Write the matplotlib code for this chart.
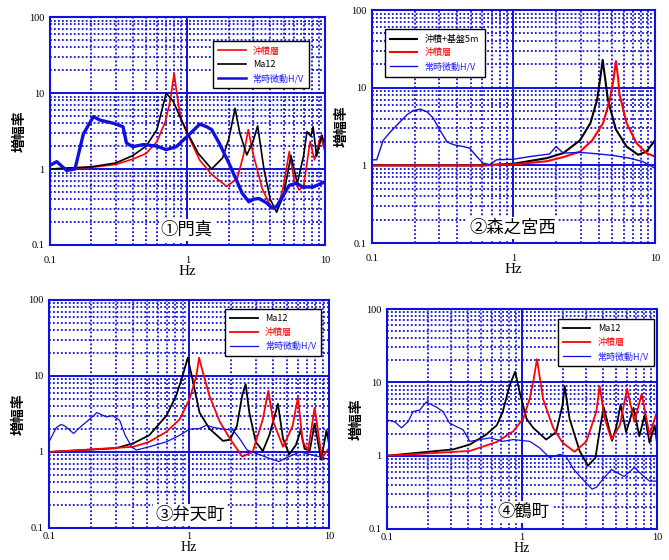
import matplotlib
matplotlib.use('Agg')
import matplotlib.pyplot as plt
from matplotlib.ticker import LogLocator, NullFormatter, FixedLocator, FixedFormatter

plt.rcParams['font.family'] = ['Noto Sans CJK JP', 'DejaVu Sans']

# ---- panel 1: 門真
p1_red_f = [0.1, 0.2, 0.3, 0.4, 0.5, 0.6, 0.69, 0.75, 0.80, 0.85, 0.9, 1.0, 1.23, 1.5, 1.93, 2.3, 2.55, 2.77, 3.0, 3.5, 4.1, 4.6, 5.0, 5.5, 6.0, 6.5, 7.0, 7.8, 8.4, 9.3, 10]
p1_red_a = [1.0, 1.05, 1.15, 1.35, 1.6, 2.3, 4.2, 8, 18.3, 8, 4.5, 2.9, 1.3, 0.85, 0.59, 0.75, 1.5, 3.3, 1.6, 0.55, 0.30, 0.33, 0.6, 1.7, 0.7, 0.53, 0.6, 2.3, 1.32, 2.7, 1.7]
p1_blk_f = [0.1, 0.2, 0.3, 0.4, 0.5, 0.6, 0.70, 0.79, 0.9, 1.0, 1.2, 1.5, 1.8, 2.0, 2.22, 2.4, 2.7, 3.0, 3.24, 3.6, 4.0, 4.45, 5.0, 5.66, 6.3, 7.0, 7.4, 7.9, 8.2, 8.7, 9.5, 10]
p1_blk_a = [1.0, 1.07, 1.2, 1.5, 2.0, 3.3, 10, 7.7, 4.5, 3.0, 1.6, 1.0, 1.4, 2.5, 6.3, 3.0, 1.53, 2.3, 3.7, 1.0, 0.4, 0.27, 0.45, 1.5, 0.65, 1.5, 3.1, 2.7, 3.6, 1.47, 2.8, 2.0]
p1_hv_f = [0.1, 0.112, 0.132, 0.152, 0.175, 0.207, 0.231, 0.29, 0.34, 0.36, 0.40, 0.48, 0.6, 0.7, 0.83, 1.04, 1.23, 1.38, 1.5, 1.7, 2.0, 2.3, 2.5, 2.8, 3.0, 3.3, 3.75, 4.1, 4.45, 4.9, 5.5, 6.2, 6.9, 8.2, 10]
p1_hv_a = [1.12, 1.25, 0.96, 1.0, 2.9, 4.9, 4.4, 4.0, 3.6, 2.2, 1.97, 2.1, 2.0, 1.8, 1.97, 2.9, 3.9, 3.6, 3.3, 2.2, 1.2, 0.68, 0.48, 0.37, 0.40, 0.41, 0.36, 0.31, 0.32, 0.43, 0.61, 0.65, 0.58, 0.58, 0.68]

# ---- panel 2: 森之宮西
p2_blk_f = [0.1, 0.3, 0.6, 1.0, 1.72, 2.25, 2.95, 3.5, 3.9, 4.1, 4.27, 4.45, 4.65, 5.3, 6.3, 7.6, 8.7, 10]
p2_blk_a = [1.0, 1.0, 1.0, 1.05, 1.24, 1.44, 2.1, 3.5, 7, 13, 22.8, 13, 7, 2.9, 1.75, 1.37, 1.5, 2.1]
p2_red_f = [0.1, 0.3, 0.6, 1.0, 1.72, 2.25, 2.95, 3.6, 4.3, 4.8, 5.1, 5.3, 5.5, 5.6, 6.3, 7.4, 8.7, 10]
p2_red_a = [1.0, 1.0, 1.0, 1.03, 1.13, 1.28, 1.5, 2.1, 3.5, 7, 13, 22, 13, 8.5, 3.5, 1.94, 1.44, 1.3]
p2_hv_f = [0.1, 0.108, 0.12, 0.135, 0.15, 0.177, 0.197, 0.22, 0.245, 0.27, 0.30, 0.34, 0.38, 0.44, 0.49, 0.55, 0.61, 0.68, 0.76, 1.0, 1.31, 1.63, 1.8, 2.0, 2.25, 2.95, 3.9, 5.1, 6.6, 8.2, 10]
p2_hv_a = [1.18, 1.18, 2.1, 2.7, 3.3, 4.5, 5.1, 5.3, 4.9, 4.1, 2.9, 2.0, 1.84, 1.75, 1.67, 1.3, 1.07, 1.02, 1.18, 1.2, 1.3, 1.37, 1.4, 1.75, 1.44, 1.47, 1.41, 1.34, 1.24, 1.12, 0.92]

# ---- panel 3: 弁天町
p3_blk_f = [0.1, 0.30, 0.40, 0.52, 0.69, 0.81, 0.90, 0.98, 1.06, 1.19, 1.40, 1.75, 1.96, 2.2, 2.4, 2.54, 2.7, 3.0, 3.37, 3.75, 4.1, 4.32, 4.7, 5.2, 5.8, 6.28, 6.7, 7.3, 7.9, 8.8, 9.6, 10]
p3_blk_a = [1.0, 1.12, 1.3, 1.66, 3.0, 5.5, 10, 17.4, 9, 3.3, 2.03, 1.4, 1.45, 2.2, 5.5, 7.8, 3.3, 1.36, 1.03, 1.66, 3.0, 4.3, 1.5, 0.93, 1.23, 1.93, 1.1, 1.05, 2.36, 0.79, 1.93, 1.3]
p3_red_f = [0.1, 0.40, 0.52, 0.69, 0.86, 1.01, 1.13, 1.18, 1.26, 1.4, 1.66, 1.96, 2.4, 2.85, 3.37, 3.69, 4.0, 4.7, 5.5, 6.0, 6.5, 7.1, 7.9, 8.9, 10]
p3_red_a = [1.0, 1.17, 1.36, 1.84, 2.7, 5.0, 10, 17.4, 11, 5.5, 2.5, 1.5, 0.87, 1.0, 2.7, 6.4, 2.5, 1.17, 2.2, 5.2, 1.36, 1.06, 3.8, 0.83, 1.12]
p3_hv_f = [0.1, 0.113, 0.122, 0.13, 0.15, 0.166, 0.195, 0.22, 0.256, 0.286, 0.32, 0.35, 0.39, 0.42, 0.52, 0.69, 0.86, 1.01, 1.19, 1.33, 1.5, 1.75, 2.07, 2.3, 2.6, 3.25, 4.0, 4.4, 5.2, 6.2, 7.7, 10]
p3_hv_a = [1.36, 2.1, 2.3, 2.2, 1.75, 2.1, 2.7, 3.3, 2.9, 3.0, 2.6, 1.66, 1.17, 1.06, 1.17, 1.36, 1.66, 2.0, 2.03, 2.25, 2.1, 2.0, 1.93, 1.5, 1.06, 0.91, 0.79, 0.75, 0.87, 1.0, 0.91, 0.8]

# ---- panel 4: 鶴町
p4_blk_f = [0.1, 0.31, 0.41, 0.54, 0.65, 0.72, 0.81, 0.89, 0.96, 1.08, 1.21, 1.51, 1.79, 2.0, 2.07, 2.25, 2.67, 3.08, 3.5, 3.8, 4.03, 4.65, 5.0, 5.38, 5.9, 6.7, 7.4, 8.1, 8.8, 9.6, 10]
p4_blk_a = [1.0, 1.22, 1.42, 1.93, 2.6, 4.0, 9.1, 14.0, 7.4, 3.2, 2.4, 1.66, 2.1, 5.0, 8.9, 3.2, 1.16, 0.73, 0.94, 2.5, 4.6, 1.6, 2.5, 5.0, 2.1, 4.5, 1.84, 3.6, 1.5, 2.6, 1.5]
p4_red_f = [0.1, 0.41, 0.65, 0.86, 1.02, 1.14, 1.22, 1.29, 1.36, 1.43, 1.7, 2.0, 2.45, 3.0, 3.55, 3.76, 4.1, 4.6, 5.3, 6.0, 6.8, 7.7, 8.8, 10]
p4_red_a = [1.0, 1.16, 1.54, 2.15, 3.2, 6.0, 11, 20.8, 11, 6.0, 2.4, 1.5, 1.13, 1.57, 4.0, 8.9, 3.2, 1.66, 2.6, 8.2, 2.9, 7.0, 1.93, 4.0]
p4_hv_f = [0.1, 0.114, 0.128, 0.143, 0.156, 0.175, 0.195, 0.207, 0.232, 0.26, 0.29, 0.326, 0.366, 0.41, 0.49, 0.58, 0.72, 0.86, 1.14, 1.35, 1.6, 1.9, 2.1, 2.4, 2.8, 3.3, 3.55, 3.98, 4.6, 5.3, 5.7, 6.8, 7.9, 8.8, 10]
p4_hv_a = [3.08, 2.9, 2.4, 2.9, 4.0, 4.2, 5.4, 5.1, 4.6, 4.0, 2.8, 2.5, 2.26, 1.57, 1.66, 1.75, 1.57, 1.66, 1.57, 1.28, 0.94, 1.04, 1.0, 0.66, 0.48, 0.35, 0.37, 0.48, 0.65, 0.56, 0.52, 0.69, 0.53, 0.45, 0.45]

x_ticks = [0.1, 1, 10]
x_labels = ['0.1', '1', '10']
y_ticks = [0.1, 1, 10, 100]
y_labels = ['0.1', '1', '10', '100']

GRID = '#1010e0'
serif = 'Liberation Serif'

fig = plt.figure(figsize=(6.69, 5.6), dpi=100)


def setup(ax, x_pad=8, hz_pad=0, hz_size=11):
    ax.set_xscale('log')
    ax.set_yscale('log')
    ax.set_xlim(0.1, 10)
    ax.set_ylim(0.1, 100)
    ax.xaxis.set_major_locator(FixedLocator(x_ticks))
    ax.xaxis.set_major_formatter(FixedFormatter(x_labels))
    ax.yaxis.set_major_locator(FixedLocator(y_ticks))
    ax.yaxis.set_major_formatter(FixedFormatter(y_labels))
    ax.xaxis.set_minor_locator(LogLocator(base=10, subs=range(2, 10)))
    ax.yaxis.set_minor_locator(LogLocator(base=10, subs=range(2, 10)))
    ax.xaxis.set_minor_formatter(NullFormatter())
    ax.yaxis.set_minor_formatter(NullFormatter())
    ax.grid(which='major', color=GRID, lw=1.4, ls='-')
    ax.grid(which='minor', color=GRID, lw=1.3, ls=(0, (1, 1.2)))
    ax.tick_params(which='both', length=0, labelsize=7.5)
    ax.tick_params(axis='x', pad=x_pad)
    ax.tick_params(axis='y', pad=4)
    for lab in ax.get_xticklabels() + ax.get_yticklabels():
        lab.set_family(serif)
    for s in ax.spines.values():
        s.set_color(GRID)
        s.set_linewidth(1.5)
    ax.set_axisbelow(True)
    ax.set_xlabel('Hz', family=serif, fontsize=hz_size, labelpad=hz_pad)
    ax.set_ylabel('増幅率', fontsize=10, fontweight='bold', labelpad=2)


def legend(ax, x, y, colors):
    leg = ax.legend(loc='upper left', bbox_to_anchor=(x, y), borderaxespad=0,
                    fontsize=6.5, handlelength=3.0, fancybox=False, framealpha=1,
                    edgecolor='black', borderpad=0.6, labelspacing=0.5)
    leg.get_frame().set_linewidth(1.0)
    for t, c in zip(leg.get_texts(), colors):
        t.set_color(c)
    for h in leg.get_lines():
        h.set_linewidth(min(h.get_linewidth(), 1.8))


def title(ax, x, y, s):
    ax.text(x, y, s, transform=ax.transAxes, ha='center', va='center', fontsize=12.5,
            bbox=dict(facecolor='white', edgecolor='none', pad=1.5), zorder=5)


# panel 1
ax1 = fig.add_axes([0.0747, 0.5625, 0.411, 0.407])
setup(ax1)
ax1.plot(p1_red_f, p1_red_a, color='red', lw=1.2, label='沖積層')
ax1.plot(p1_blk_f, p1_blk_a, color='black', lw=1.2, label='Ma12')
ax1.plot(p1_hv_f, p1_hv_a, color='#1010e0', lw=2.4, label='常時微動H/V')
legend(ax1, 0.593, 0.895, ['red', 'black', '#2020ff'])
title(ax1, 0.498, 0.066, '①門真')

# panel 2
ax2 = fig.add_axes([0.556, 0.566, 0.423, 0.416])
setup(ax2)
ax2.plot(p2_blk_f, p2_blk_a, color='black', lw=1.5, label='沖積+基盤5m')
ax2.plot(p2_red_f, p2_red_a, color='red', lw=1.5, label='沖積層')
ax2.plot(p2_hv_f, p2_hv_a, color='#1010e0', lw=1.0, label='常時微動H/V')
legend(ax2, 0.046, 0.918, ['black', 'red', '#2020ff'])
title(ax2, 0.498, 0.064, '②森之宮西')

# panel 3
ax3 = fig.add_axes([0.0732, 0.0572, 0.4185, 0.4071])
setup(ax3, x_pad=3, hz_pad=0, hz_size=10)
ax3.plot(p3_blk_f, p3_blk_a, color='black', lw=1.3, label='Ma12')
ax3.plot(p3_red_f, p3_red_a, color='red', lw=1.3, label='沖積層')
ax3.plot(p3_hv_f, p3_hv_a, color='#1010e0', lw=0.9, label='常時微動H/V')
legend(ax3, 0.629, 0.961, ['black', 'red', '#2020ff'])
title(ax3, 0.504, 0.056, '③弁天町')

# panel 4
ax4 = fig.add_axes([0.5785, 0.0554, 0.4036, 0.3926])
setup(ax4, x_pad=3, hz_pad=0, hz_size=10)
ax4.plot(p4_blk_f, p4_blk_a, color='black', lw=1.3, label='Ma12')
ax4.plot(p4_red_f, p4_red_a, color='red', lw=1.3, label='沖積層')
ax4.plot(p4_hv_f, p4_hv_a, color='#1010e0', lw=0.9, label='常時微動H/V')
legend(ax4, 0.633, 0.955, ['black', 'red', '#2020ff'])
title(ax4, 0.507, 0.076, '④鶴町')

fig.savefig('out.png', dpi=100)
